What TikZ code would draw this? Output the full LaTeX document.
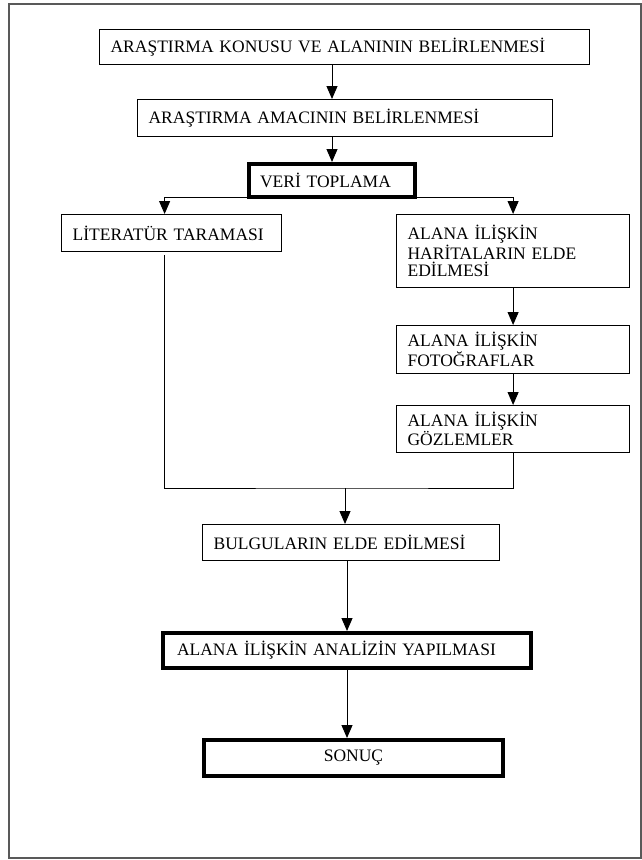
\documentclass[tikz,border=0pt]{standalone}
\usepackage{fontspec}
\setmainfont{Liberation Serif}
\usetikzlibrary{positioning,arrows.meta}

\begin{document}
\begin{tikzpicture}[x=1pt,y=-1pt,line width=1pt,>={Triangle[width=11pt,length=13pt]},
    kutu/.style={draw,rectangle,anchor=north west,align=left,inner xsep=11pt,inner ysep=0pt,
                 line width=1.2pt,font=\fontsize{17.5}{17.5}\selectfont},
    kalin/.style={kutu,line width=4pt}]
    \useasboundingbox (0,0) rectangle (642,860);
    \draw[line width=1.5pt,black!65] (9,4) rectangle (641,858);

    \node[kutu,minimum width=490pt,minimum height=35pt,text width=468pt] (kon) at (99,29)
        {ARAŞTIRMA KONUSU VE ALANININ BELİRLENMESİ};
    \node[kutu,minimum width=415pt,minimum height=37pt,text width=393pt] (amac) at (137,99)
        {ARAŞTIRMA AMACININ BELİRLENMESİ};
    \node[kalin,minimum width=166pt,minimum height=33pt,text width=144pt] (veri) at (247,162)
        {VERİ TOPLAMA};
    \node[kutu,minimum width=220pt,minimum height=37pt,text width=198pt] (lit) at (61,214)
        {LİTERATÜR TARAMASI};
    \node[kutu,minimum width=233pt,minimum height=73pt,text width=211pt] (hari) at (396,214)
        {ALANA İLİŞKİN\\HARİTALARIN ELDE\\EDİLMESİ};
    \node[kutu,minimum width=233pt,minimum height=48pt,text width=211pt] (foto) at (396,325)
        {ALANA İLİŞKİN\\FOTOĞRAFLAR};
    \node[kutu,minimum width=233pt,minimum height=47pt,text width=211pt] (gozlem) at (396,405)
        {ALANA İLİŞKİN\\GÖZLEMLER};
    \node[kutu,minimum width=297pt,minimum height=36pt,text width=275pt] (bulgu) at (202,524)
        {BULGULARIN ELDE EDİLMESİ};
    \node[kalin,minimum width=368pt,minimum height=35pt,inner xsep=14pt,text width=340pt] (analiz) at (161,631)
        {ALANA İLİŞKİN ANALİZİN YAPILMASI};
    \node[kalin,minimum width=299pt,minimum height=36pt,align=center,text width=277pt] (sonuc) at (202,738)
        {SONUÇ};
    \coordinate (birles) at (345,488);

    \path[->] (kon.south -| veri)   edge (amac.north -| veri)
              (amac.south -| veri)  edge (veri.north)
              (hari)                edge (foto)
              (foto)                edge (gozlem);
    \draw[->] ([yshift=2pt]veri.south west) -| ([xshift=-7pt]lit.north);
    \draw[->] ([yshift=2pt]veri.south east) -| (hari.north);
    \draw[shorten <=3pt] ([xshift=-7pt]lit.south) |- (birles) -| (gozlem.south);
    \draw[->] (birles) -- (bulgu.north -| birles);
    \draw[->] (bulgu.south -| analiz) -- (analiz.north);
    \draw[->] (analiz.south) -- (sonuc.north -| analiz);
\end{tikzpicture}
\end{document}
